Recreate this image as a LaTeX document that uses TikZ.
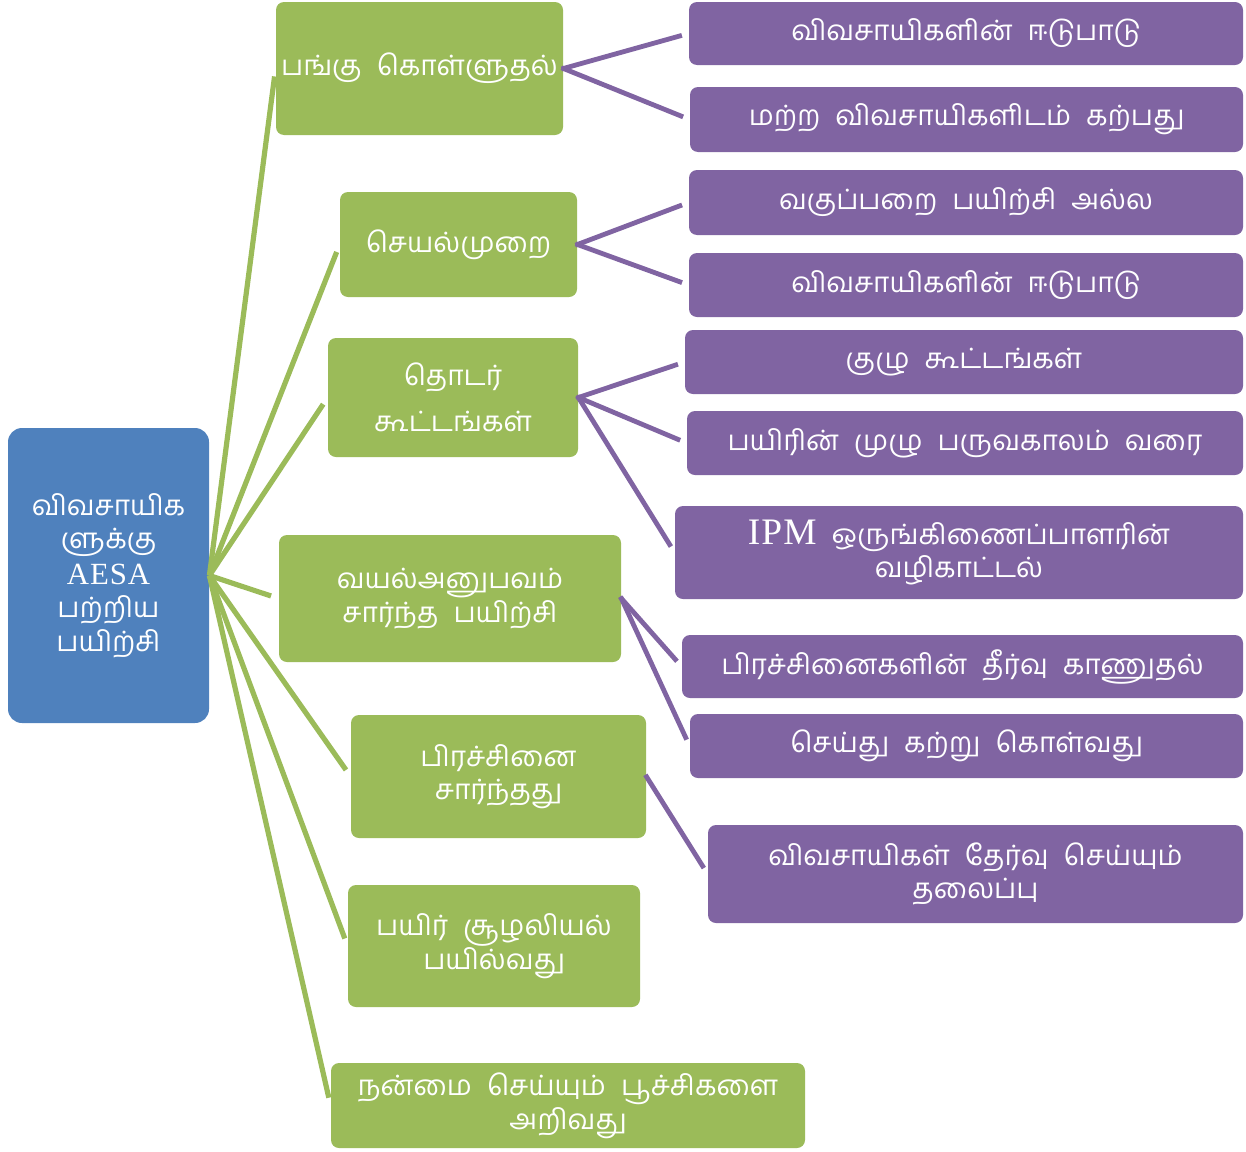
\documentclass[tikz,border=0pt]{standalone}
\usepackage{fontspec}
\setmainfont[Script=Tamil, WordSpace=2.2]{Hind Madurai}
\newfontfamily\latinfont[Scale=1.1, LetterSpace=3]{Liberation Serif}
\definecolor{aesagreen}{HTML}{9BBB59}
\definecolor{aesapurple}{HTML}{8064A2}
\definecolor{aesablue}{HTML}{4F81BD}

\begin{document}
\begin{tikzpicture}[x=0.5pt,y=-0.5pt,
    boxwh/.style 2 args={minimum width=#1*0.5pt, minimum height=#2*0.5pt},
    basebox/.style={rounded corners=4pt, text=white, align=center, inner sep=0pt,
        font=\fontsize{14}{16.8}\selectfont},
    bluebox/.style={basebox, fill=aesablue, rounded corners=7pt},
    greenbox/.style={basebox, fill=aesagreen},
    purplebox/.style={basebox, fill=aesapurple},
    greenline/.style={draw=aesagreen, line width=2.6pt, shorten >=4pt},
    purpleline/.style={draw=aesapurple, line width=2.4pt, shorten >=3.5pt, shorten <=-1pt}]
                        \useasboundingbox (0,0) rectangle (1246,1151);

                        \node[bluebox, boxwh={201}{295}] (farmers) at (108.5,575.5) {விவசாயிக\\ளுக்கு\\[1pt]{\latinfont AESA}\\பற்றிய\\பயிற்சி};

                        \node[greenbox, boxwh={287}{133}] (takepart) at (419.5,68.5) {பங்கு கொள்ளுதல்};
                        \node[greenbox, boxwh={237}{105}] (practice) at (458.5,244.5) {செயல்முறை};
                        \node[greenbox, boxwh={250}{119}] (meetings) at (453,397.5) {தொடர்\\[6pt]கூட்டங்கள்};
                        \node[greenbox, boxwh={342}{127}] (fieldwork) at (450,598.5) {வயல்அனுபவம்\\சார்ந்த பயிற்சி};
                        \node[greenbox, boxwh={295}{123}] (problem) at (498.5,776.5) {பிரச்சினை\\சார்ந்தது};
                        \node[greenbox, boxwh={292}{122}] (ecology) at (494,946) {பயிர் சூழலியல்\\பயில்வது};
                        \node[greenbox, boxwh={474}{85}] (insects) at (568,1105.5) {நன்மை செய்யும் பூச்சிகளை\\அறிவது};

                        \node[purplebox, boxwh={554}{63}] (involveA) at (966,33.5) {விவசாயிகளின் ஈடுபாடு};
                        \node[purplebox, boxwh={553}{65}] (peers) at (966.5,119.5) {மற்ற விவசாயிகளிடம் கற்பது};
                        \node[purplebox, boxwh={554}{65}] (noclass) at (966,202.5) {வகுப்பறை பயிற்சி அல்ல};
                        \node[purplebox, boxwh={554}{64}] (involveB) at (966,285) {விவசாயிகளின் ஈடுபாடு};
                        \node[purplebox, boxwh={558}{64}] (groups) at (964,362) {குழு கூட்டங்கள்};
                        \node[purplebox, boxwh={556}{64}] (season) at (965,443) {பயிரின் முழு பருவகாலம் வரை};
                        \node[purplebox, boxwh={568}{93}] (ipm) at (959,552.5) {{\latinfont\fontsize{17}{16.8}\selectfont IPM} ஒருங்கிணைப்பாளரின்\\வழிகாட்டல்};
                        \node[purplebox, boxwh={561}{63}] (solving) at (962.5,666.5) {பிரச்சினைகளின் தீர்வு காணுதல்};
                        \node[purplebox, boxwh={553}{64}] (doing) at (966.5,746) {செய்து கற்று கொள்வது};
                        \node[purplebox, boxwh={535}{98}] (topic) at (975.5,874) {விவசாயிகள் தேர்வு செய்யும்\\தலைப்பு};

                        \foreach \branch in {takepart,practice,meetings,fieldwork,problem,ecology,insects}
                            \draw[greenline] (farmers.east) -- (\branch.west);

                        \draw[purpleline] (takepart.east) -- (involveA.west);
                        \draw[purpleline] (takepart.east) -- (peers.west);
                        \draw[purpleline] (practice.east) -- (noclass.west);
                        \draw[purpleline] (practice.east) -- (involveB.west);
                        \draw[purpleline] (meetings.east) -- (groups.west);
                        \draw[purpleline] (meetings.east) -- (season.west);
                        \draw[purpleline] (meetings.east) -- (ipm.west);
                        \draw[purpleline] (fieldwork.east) -- (solving.west);
                        \draw[purpleline] (fieldwork.east) -- (doing.west);
                        \draw[purpleline] (problem.east) -- (topic.west);
                    \end{tikzpicture}
\end{document}
